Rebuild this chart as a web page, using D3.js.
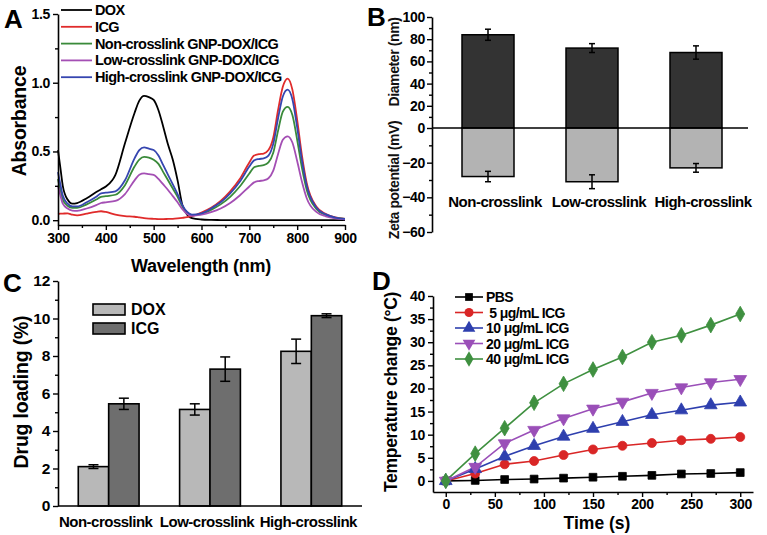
<!DOCTYPE html>
<html><head><meta charset="utf-8">
<script src="https://cdn.jsdelivr.net/npm/d3@7"></script>
<style>
body{margin:0;background:#fff;}
text{font-family:"Liberation Sans",Arial,sans-serif;}
</style></head>
<body><svg id="c" width="767" height="535"></svg>
<script>
// ---------- Panel A data ----------
const wavelengths = [300,305,310,320,330,340,360,380,390,400,420,440,460,470,480,490,500,510,520,530,540,550,560,570,580,600,620,640,660,680,700,710,720,730,740,750,760,770,780,790,800,810,820,840,860,880,900];
const absDOX  = [0.51,0.38,0.25,0.15,0.12,0.125,0.16,0.205,0.225,0.245,0.33,0.56,0.78,0.87,0.905,0.895,0.875,0.80,0.68,0.55,0.44,0.29,0.11,0.04,0.015,0.005,0.002,0.001,0,0,0,0,0,0,0,0,0,0,0,0,0,0,0,0,0,0,0];
const absICG  = [0.045,0.047,0.048,0.05,0.04,0.035,0.048,0.06,0.065,0.06,0.04,0.03,0.025,0.02,0.015,0.012,0.01,0.008,0.008,0.009,0.01,0.013,0.017,0.022,0.03,0.055,0.09,0.14,0.21,0.30,0.42,0.47,0.48,0.485,0.51,0.60,0.80,0.97,1.03,0.95,0.73,0.47,0.27,0.10,0.045,0.02,0.01];
const absNon  = [0.30,0.22,0.15,0.105,0.09,0.09,0.115,0.15,0.17,0.175,0.185,0.255,0.39,0.44,0.46,0.455,0.44,0.41,0.35,0.29,0.23,0.17,0.10,0.055,0.037,0.045,0.075,0.115,0.17,0.245,0.34,0.385,0.395,0.40,0.42,0.49,0.65,0.79,0.825,0.765,0.585,0.38,0.22,0.082,0.037,0.017,0.009];
const absLow  = [0.25,0.18,0.12,0.085,0.07,0.068,0.085,0.11,0.125,0.13,0.14,0.19,0.29,0.33,0.34,0.335,0.33,0.30,0.26,0.22,0.175,0.13,0.08,0.045,0.032,0.04,0.058,0.085,0.125,0.18,0.245,0.275,0.285,0.29,0.305,0.36,0.48,0.585,0.61,0.565,0.43,0.28,0.16,0.06,0.028,0.013,0.007];
const absHigh = [0.35,0.26,0.18,0.12,0.10,0.10,0.13,0.17,0.195,0.20,0.21,0.29,0.45,0.51,0.53,0.52,0.51,0.47,0.40,0.33,0.26,0.19,0.11,0.06,0.04,0.05,0.085,0.13,0.195,0.28,0.39,0.435,0.445,0.45,0.47,0.555,0.74,0.90,0.95,0.88,0.675,0.435,0.25,0.093,0.042,0.019,0.01];
const seriesNamesA = ["DOX","ICG","Non-crosslink GNP-DOX/ICG","Low-crosslink GNP-DOX/ICG","High-crosslink GNP-DOX/ICG"];
const colorsA = ["#000000","#e02b2b","#3a8a3a","#a44fb4","#3646b0"];
const xTicksA = [300,400,500,600,700,800,900];
const yTicksA = [0,0.5,1.0,1.5];

// ---------- Panel B data ----------
const categories = ["Non-crosslink","Low-crosslink","High-crosslink"];
const diameter = [84,72,68];
const diameterErr = [5,4,6];
const zeta = [-28,-31,-23];
const zetaErr = [3,4,2.5];
const yTicksBpos = [0,20,40,60,80,100];
const yTicksBneg = [-60,-40,-20];

// ---------- Panel C data ----------
const drugs = ["DOX","ICG"];
const loadDOX = [2.1,5.15,8.25];
const loadDOXErr = [0.1,0.3,0.65];
const loadICG = [5.45,7.3,10.15];
const loadICGErr = [0.3,0.65,0.1];
const yTicksC = [0,2,4,6,8,10,12];

// ---------- Panel D data ----------
const times = [0,30,60,90,120,150,180,210,240,270,300];
const tPBS = [0,0.1,0.3,0.4,0.6,0.8,1.0,1.2,1.5,1.6,1.8];
const t5   = [0,1.6,3.6,4.3,5.6,6.8,7.6,8.2,8.8,9.1,9.5];
const t10  = [0,2.6,5.3,7.6,9.6,11.3,12.8,14.3,15.3,16.4,17.0];
const t20  = [0,3.0,8.1,11.0,13.5,15.6,17.1,19.0,20.2,21.3,22.0];
const t40  = [0,5.9,11.4,16.9,21.0,24.1,26.8,30.0,31.5,33.7,36.1];
const seriesNamesD = ["PBS"," 5 μg/mL ICG","10 μg/mL ICG","20 μg/mL ICG","40 μg/mL ICG"];
const colorsD = ["#000000","#d92626","#2e3fae","#9a4fb8","#3f9040"];
const xTicksD = [0,50,100,150,200,250,300];
const yTicksD = [0,5,10,15,20,25,30,35,40];

const svg = d3.select("#c");
const F = '"Liberation Sans",Arial,sans-serif';

function styleAxis(g, fs){
  g.selectAll("path").attr("stroke","#000").attr("stroke-width",1.6);
  g.selectAll("line").attr("stroke","#000").attr("stroke-width",1.4);
  g.selectAll("text").attr("font-family",F).attr("font-weight","bold").attr("font-size",fs).attr("fill","#000").attr("letter-spacing",-0.3);
}
function panelLetter(t,x,y){
  svg.append("text").attr("x",x).attr("y",y).text(t).attr("font-weight","bold").attr("font-size",26).attr("font-family",F);
}

// ================= Panel A =================
{
  const x = d3.scaleLinear().domain([300,900]).range([58,345]);
  const y = d3.scaleLinear().domain([-0.035,1.5]).range([225,14]);
  const g = svg.append("g");
  const all = [absDOX,absICG,absNon,absLow,absHigh];
  const line = d3.line().x((d,i)=>x(wavelengths[i])).y(d=>y(d)).curve(d3.curveMonotoneX);
  all.forEach((s,k)=>{
    g.append("path").attr("d",line(s)).attr("fill","none").attr("stroke",colorsA[k]).attr("stroke-width",1.8);
  });
  const xa = g.append("g").attr("transform","translate(0,225)")
    .call(d3.axisBottom(x).tickValues(xTicksA).tickSize(5).tickSizeOuter(0).tickPadding(3));
  styleAxis(xa,14);
  const xm = g.append("g").attr("transform","translate(0,225)")
    .call(d3.axisBottom(x).tickValues([350,450,550,650,750,850]).tickSize(3).tickFormat(""));
  styleAxis(xm,14); xm.select("path").remove();
  const ya = g.append("g").attr("transform","translate(58,0)")
    .call(d3.axisLeft(y).tickValues(yTicksA).tickFormat(d3.format(".1f")).tickSize(5).tickSizeOuter(0).tickPadding(3));
  styleAxis(ya,14);
  const ym = g.append("g").attr("transform","translate(58,0)")
    .call(d3.axisLeft(y).tickValues([0.25,0.75,1.25]).tickSize(3).tickFormat(""));
  styleAxis(ym,14); ym.select("path").remove();
  seriesNamesA.forEach((n,k)=>{
    const yy = 10 + k*16.8;
    g.append("line").attr("x1",61).attr("x2",92).attr("y1",yy).attr("y2",yy).attr("stroke",colorsA[k]).attr("stroke-width",1.8);
    g.append("text").attr("x",95).attr("y",yy+5).text(n).attr("font-weight","bold").attr("font-size",14.5).attr("letter-spacing",-0.6);
  });
  g.append("text").attr("transform","translate(26,121) rotate(-90)").attr("text-anchor","middle")
    .text("Absorbance").attr("font-weight","bold").attr("font-size",19.5).attr("letter-spacing",-0.2);
  g.append("text").attr("x",201).attr("y",272).attr("text-anchor","middle")
    .text("Wavelength (nm)").attr("font-weight","bold").attr("font-size",18).attr("letter-spacing",-0.3);
  panelLetter("A",4,28);
}

// ================= Panel B =================
{
  const x = d3.scaleBand().domain(categories).range([436,748]).paddingInner(0.5).paddingOuter(0.25);
  const yp = d3.scaleLinear().domain([0,100]).range([128,17]);
  const yn = d3.scaleLinear().domain([-60,0]).range([232,128]);
  const g = svg.append("g");
  categories.forEach((c,i)=>{
    g.append("rect").attr("x",x(c)).attr("width",x.bandwidth()).attr("y",yp(diameter[i])).attr("height",yp(0)-yp(diameter[i]))
      .attr("fill","#333333").attr("stroke","#000").attr("stroke-width",1.5);
    g.append("rect").attr("x",x(c)).attr("width",x.bandwidth()).attr("y",yn(0)).attr("height",yn(zeta[i])-yn(0))
      .attr("fill","#b3b3b3").attr("stroke","#000").attr("stroke-width",1.5);
    const cx = x(c)+x.bandwidth()/2;
    [[yp(diameter[i]+diameterErr[i]),yp(diameter[i]-diameterErr[i])],[yn(zeta[i]+zetaErr[i]),yn(zeta[i]-zetaErr[i])]].forEach(([a,b])=>{
      g.append("line").attr("x1",cx).attr("x2",cx).attr("y1",a).attr("y2",b).attr("stroke","#000").attr("stroke-width",1.5);
      g.append("line").attr("x1",cx-3).attr("x2",cx+3).attr("y1",a).attr("y2",a).attr("stroke","#000").attr("stroke-width",1.5);
      g.append("line").attr("x1",cx-3).attr("x2",cx+3).attr("y1",b).attr("y2",b).attr("stroke","#000").attr("stroke-width",1.5);
    });
    g.append("text").attr("x",cx+7).attr("y",207).attr("text-anchor","middle").text(c)
      .attr("font-weight","bold").attr("font-size",15).attr("letter-spacing",-0.5);
  });
  g.append("line").attr("x1",432).attr("x2",748).attr("y1",128).attr("y2",128).attr("stroke","#000").attr("stroke-width",1.5);
  const a1 = g.append("g").attr("transform","translate(432,0)")
    .call(d3.axisLeft(yp).tickValues(yTicksBpos).tickSize(5).tickSizeOuter(0).tickPadding(2));
  styleAxis(a1,14);
  const a1m = g.append("g").attr("transform","translate(432,0)")
    .call(d3.axisLeft(yp).tickValues([10,30,50,70,90]).tickSize(3).tickFormat(""));
  styleAxis(a1m,14); a1m.select("path").remove();
  const a2 = g.append("g").attr("transform","translate(432,0)")
    .call(d3.axisLeft(yn).tickValues(yTicksBneg).tickSize(5).tickSizeOuter(0).tickPadding(2));
  styleAxis(a2,14);
  const a2m = g.append("g").attr("transform","translate(432,0)")
    .call(d3.axisLeft(yn).tickValues([-50,-30,-10]).tickSize(3).tickFormat(""));
  styleAxis(a2m,14); a2m.select("path").remove();
  g.append("text").attr("transform","translate(399,62) rotate(-90)").attr("text-anchor","middle")
    .text("Diameter (nm)").attr("font-size",14).attr("font-weight","bold").attr("fill","#111").attr("letter-spacing",-0.4);
  g.append("text").attr("transform","translate(399,180) rotate(-90)").attr("text-anchor","middle")
    .text("Zeta potential (mV)").attr("font-size",14).attr("font-weight","bold").attr("fill","#111").attr("letter-spacing",-0.4);
  panelLetter("B",367,26);
}

// ================= Panel C =================
{
  const x0 = d3.scaleBand().domain(categories).range([58,362]).paddingInner(0.4).paddingOuter(0.2);
  const x1 = d3.scaleBand().domain(drugs).range([0,x0.bandwidth()]);
  const y = d3.scaleLinear().domain([0,12]).range([506,281]);
  const g = svg.append("g");
  const fills = {DOX:"#b8b8b8",ICG:"#6e6e6e"};
  const vals = {DOX:[loadDOX,loadDOXErr],ICG:[loadICG,loadICGErr]};
  categories.forEach((c,i)=>{
    drugs.forEach(d=>{
      const v = vals[d][0][i], e = vals[d][1][i];
      const bx = x0(c)+x1(d);
      g.append("rect").attr("x",bx).attr("width",x1.bandwidth()).attr("y",y(v)).attr("height",y(0)-y(v))
        .attr("fill",fills[d]).attr("stroke","#000").attr("stroke-width",1.6);
      const cx = bx + x1.bandwidth()/2;
      g.append("line").attr("x1",cx).attr("x2",cx).attr("y1",y(v+e)).attr("y2",y(v-e)).attr("stroke","#000").attr("stroke-width",1.5);
      [v+e,v-e].forEach(t=>g.append("line").attr("x1",cx-5).attr("x2",cx+5).attr("y1",y(t)).attr("y2",y(t)).attr("stroke","#000").attr("stroke-width",1.5));
    });
    g.append("text").attr("x",x0(c)+x0.bandwidth()/2-3).attr("y",527).attr("text-anchor","middle").text(c)
      .attr("font-weight","bold").attr("font-size",15).attr("letter-spacing",-0.5);
  });
  const ya = g.append("g").attr("transform","translate(58,0)")
    .call(d3.axisLeft(y).tickValues(yTicksC).tickSize(5).tickSizeOuter(0).tickPadding(3));
  styleAxis(ya,15.5);
  const ym = g.append("g").attr("transform","translate(58,0)")
    .call(d3.axisLeft(y).tickValues([1,3,5,7,9,11]).tickSize(3).tickFormat(""));
  styleAxis(ym,15.5); ym.select("path").remove();
  g.append("line").attr("x1",58).attr("x2",362).attr("y1",506).attr("y2",506).attr("stroke","#000").attr("stroke-width",1.6);
  drugs.forEach((d,k)=>{
    const yy = 304 + k*19;
    g.append("rect").attr("x",93).attr("y",yy).attr("width",32).attr("height",11).attr("fill",fills[d]).attr("stroke","#000").attr("stroke-width",1.6);
    g.append("text").attr("x",131).attr("y",yy+11).text(d).attr("font-weight","bold").attr("font-size",16);
  });
  g.append("text").attr("transform","translate(28,392) rotate(-90)").attr("text-anchor","middle")
    .text("Drug loading (%)").attr("font-weight","bold").attr("font-size",19.5).attr("letter-spacing",-0.2);
  panelLetter("C",3,292);
}

// ================= Panel D =================
{
  const x = d3.scaleLinear().domain([-13,313]).range([433,753]);
  const y = d3.scaleLinear().domain([-2.4,40]).range([492,296]);
  const g = svg.append("g");
  const all = [tPBS,t5,t10,t20,t40];
  const symbols = [d3.symbolSquare,d3.symbolCircle,d3.symbolTriangle,d3.symbolTriangle,d3.symbolDiamond];
  const sizes = [60,64,70,70,70];
  const rots = [0,0,0,180,0];
  const line = d3.line().x((d,i)=>x(times[i])).y(d=>y(d));
  all.forEach((s,k)=>{
    g.append("path").attr("d",line(s)).attr("fill","none").attr("stroke",colorsD[k]).attr("stroke-width",1.6);
  });
  all.forEach((s,k)=>{
    s.forEach((v,i)=>{
      g.append("path").attr("d",d3.symbol().type(symbols[k]).size(sizes[k])())
        .attr("transform",`translate(${x(times[i])},${y(v)}) rotate(${rots[k]})`)
        .attr("fill",colorsD[k]).attr("stroke",colorsD[k]).attr("stroke-width",0.8);
    });
  });
  const xa = g.append("g").attr("transform","translate(0,492)")
    .call(d3.axisBottom(x).tickValues(xTicksD).tickSize(5).tickSizeOuter(0).tickPadding(2));
  styleAxis(xa,14);
  const xm = g.append("g").attr("transform","translate(0,492)")
    .call(d3.axisBottom(x).tickValues([25,75,125,175,225,275]).tickSize(3).tickFormat(""));
  styleAxis(xm,14); xm.select("path").remove();
  const ya = g.append("g").attr("transform","translate(433,0)")
    .call(d3.axisLeft(y).tickValues(yTicksD).tickSize(5).tickSizeOuter(0).tickPadding(3));
  styleAxis(ya,14);
  const ym = g.append("g").attr("transform","translate(433,0)")
    .call(d3.axisLeft(y).tickValues([2.5,7.5,12.5,17.5,22.5,27.5,32.5,37.5]).tickSize(3).tickFormat(""));
  styleAxis(ym,14); ym.select("path").remove();
  seriesNamesD.forEach((n,k)=>{
    const yy = 297 + k*15.5;
    g.append("line").attr("x1",455).attr("x2",483).attr("y1",yy).attr("y2",yy).attr("stroke",colorsD[k]).attr("stroke-width",1.6);
    g.append("path").attr("d",d3.symbol().type(symbols[k]).size(sizes[k])())
      .attr("transform",`translate(469,${yy}) rotate(${rots[k]})`).attr("fill",colorsD[k]);
    g.append("text").attr("x",486).attr("y",yy+5).text(n).attr("font-weight","bold").attr("font-size",14).attr("letter-spacing",-0.6).attr("xml:space","preserve");
  });
  g.append("text").attr("transform","translate(397,392) rotate(-90)").attr("text-anchor","middle")
    .text("Temperature change (°C)").attr("font-weight","bold").attr("font-size",17.5).attr("letter-spacing",-0.3);
  g.append("text").attr("x",597).attr("y",529).attr("text-anchor","middle")
    .text("Time (s)").attr("font-weight","bold").attr("font-size",17.5);
  panelLetter("D",372,290);
}
</script></body></html>
